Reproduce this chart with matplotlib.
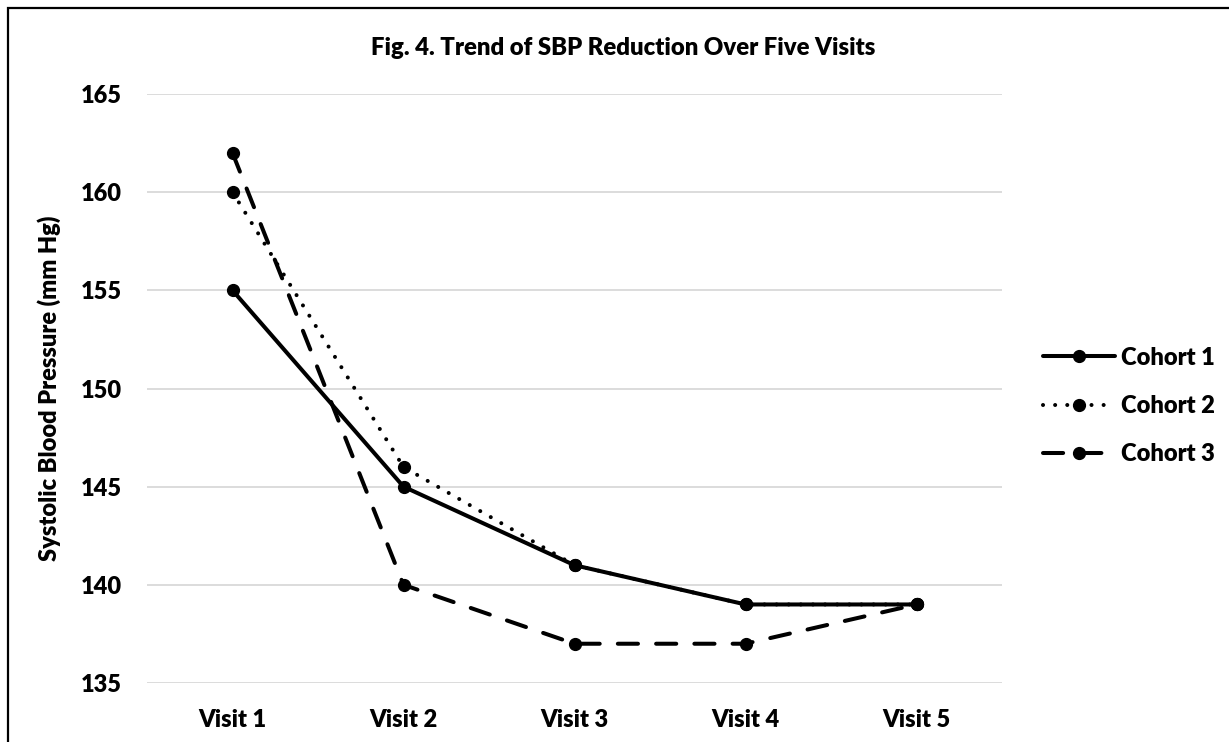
import matplotlib
matplotlib.use("Agg")
import matplotlib.pyplot as plt
from matplotlib.patches import Rectangle

visits = ["Visit 1", "Visit 2", "Visit 3", "Visit 4", "Visit 5"]
cohort1 = [155, 145, 141, 139, 139]
cohort2 = [160, 146, 141, 139, 139]
cohort3 = [162, 140, 137, 137, 139]
series_names = ["Cohort 1", "Cohort 2", "Cohort 3"]
yticks = [135, 140, 145, 150, 155, 160, 165]

plt.rcParams['font.family'] = ['Lato', 'DejaVu Sans']
WEIGHT = 'heavy'

W, H = 1229, 742
fig = plt.figure(figsize=(W / 100, H / 100), dpi=100)
ax = fig.add_axes([147 / W, 1 - 683 / H, (1002 - 147) / W, (683 - 94) / H])

x = list(range(len(visits)))
lw = 2.9
ms = 8.5
l3, = ax.plot(x, cohort3, color='black', lw=lw, marker='o', ms=ms,
              dashes=(5.0, 4.5), dash_capstyle='round', label=series_names[2], zorder=3)
l2, = ax.plot(x, cohort2, color='black', lw=lw, marker='o', ms=ms,
              dashes=(0.01, 3.0), dash_capstyle='round', label=series_names[1], zorder=4)
l1, = ax.plot(x, cohort1, color='black', lw=lw, marker='o', ms=ms,
              solid_capstyle='round', label=series_names[0], zorder=5)

ax.set_xlim(-0.5, len(visits) - 0.5)
ax.set_ylim(135, 165)
ax.set_yticks(yticks)
ax.set_xticks(x)
ax.set_xticklabels(visits)
ax.grid(axis='y', color='#d9d9d9', lw=1.3)
ax.set_axisbelow(True)
for s in ax.spines.values():
    s.set_visible(False)
ax.tick_params(axis='both', length=0, labelsize=17)
for lab in ax.get_xticklabels() + ax.get_yticklabels():
    lab.set_fontweight(WEIGHT)
ax.tick_params(axis='y', pad=18)
ax.tick_params(axis='x', pad=19)

ax.set_ylabel("Systolic Blood Pressure (mm Hg)", fontsize=17, fontweight=WEIGHT, labelpad=14)

fig.text(623 / W, 1 - 48 / H, "Fig. 4. Trend of SBP Reduction Over Five Visits",
         ha='center', va='center', fontsize=17.2, fontweight=WEIGHT)

leg = fig.legend(handles=[l1, l2, l3], labels=series_names, loc='center left',
                 bbox_to_anchor=(1022 / W, 1 - 406 / H), frameon=False,
                 fontsize=17, handlelength=3.05, handletextpad=0.25, labelspacing=1.12)
for t in leg.get_texts():
    t.set_fontweight(WEIGHT)

fig.patches.append(Rectangle((8 / W, -0.1), 1.2, 1 - 8 / H + 0.1, transform=fig.transFigure,
                             fill=False, edgecolor='black', lw=1.6))

fig.savefig("out.png", dpi=100)
